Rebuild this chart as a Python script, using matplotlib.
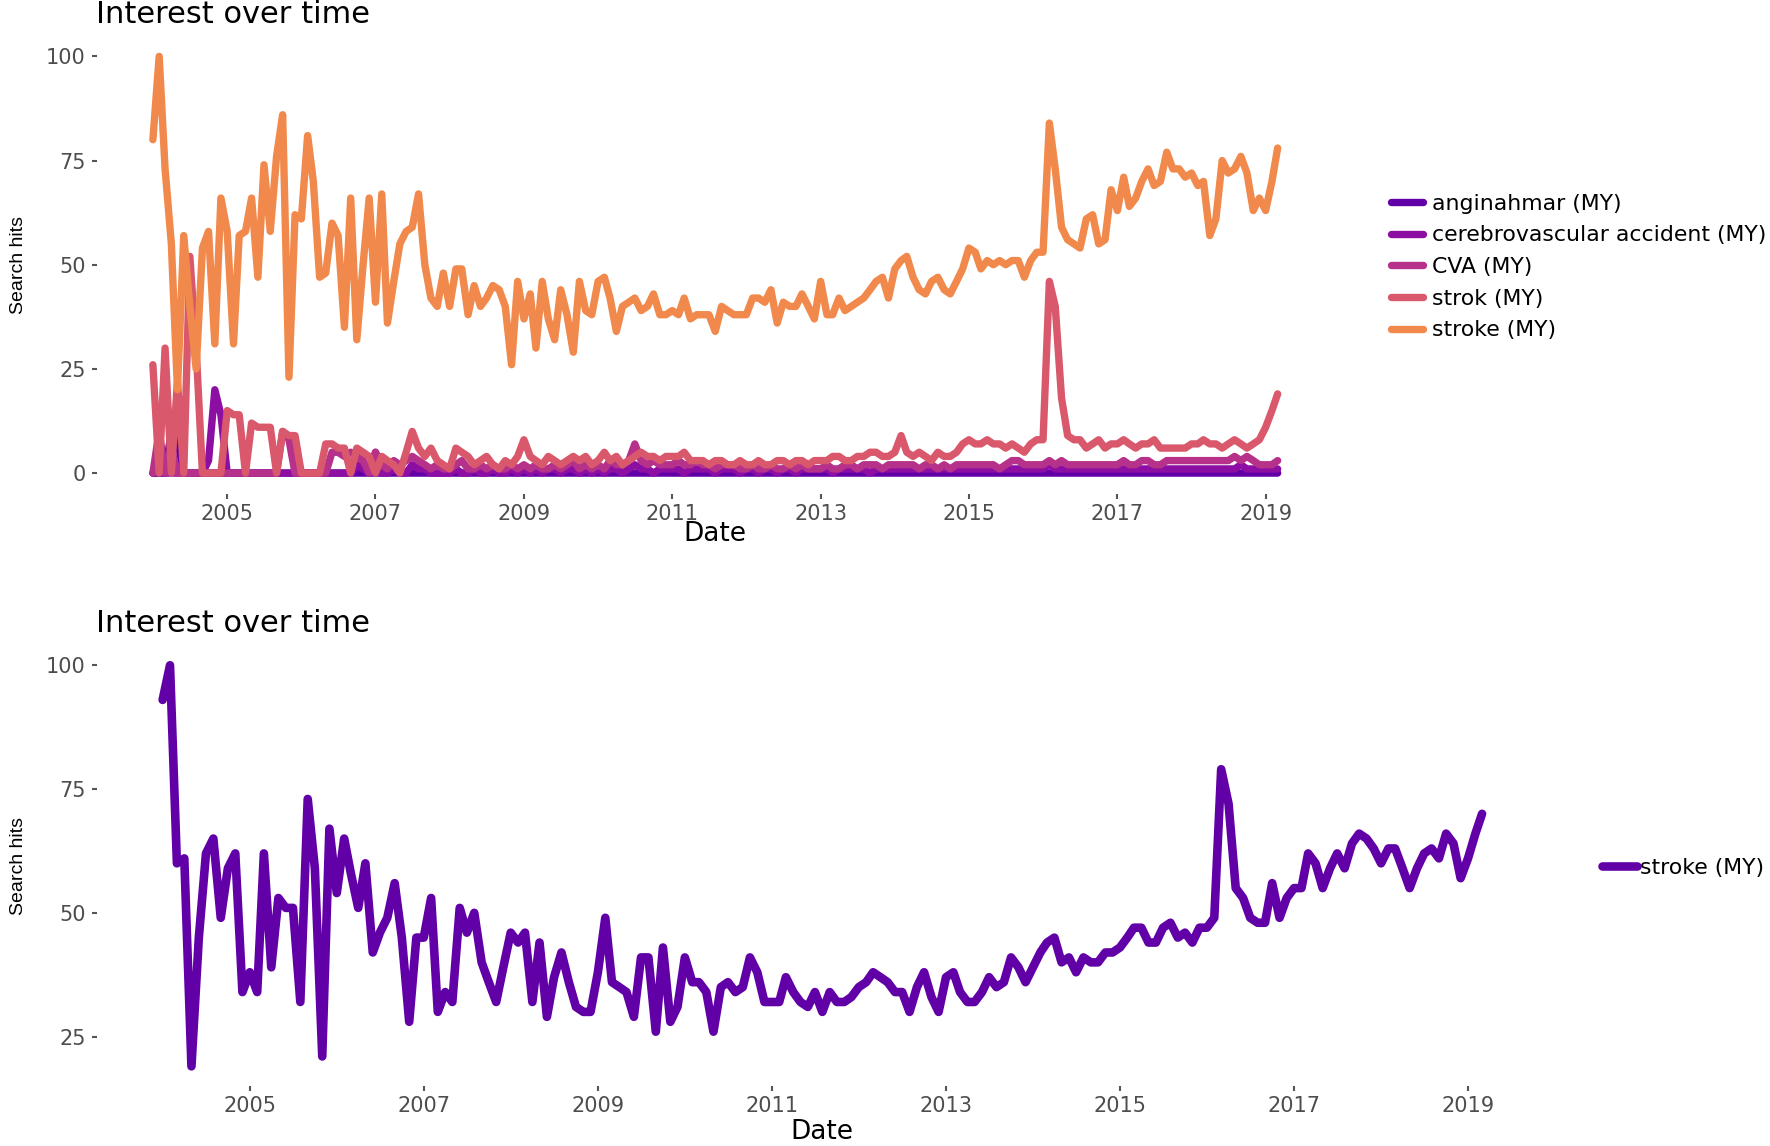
import matplotlib
matplotlib.use("Agg")
import matplotlib.pyplot as plt
import matplotlib.dates as mdates
import numpy as np
import pandas as pd

# monthly Google Trends hits, Jan 2004 - Mar 2019
dates = pd.date_range("2004-01-01", periods=183, freq="MS")
year_ticks = pd.to_datetime(["2005-01-01", "2007-01-01", "2009-01-01", "2011-01-01",
                             "2013-01-01", "2015-01-01", "2017-01-01", "2019-01-01"])

terms = ["anginahmar (MY)", "cerebrovascular accident (MY)", "CVA (MY)", "strok (MY)", "stroke (MY)"]

anginahmar = [0, 0, 0, 10, 8, 0, 0, 0, 0, 0, 0, 0] + [0] * 171

cerebrovascular = [
    0, 0, 0, 0, 0, 0, 0, 0, 0, 3, 20, 14,
    0, 0, 0, 0, 0, 0, 0, 0, 0, 0, 0, 0,
    0, 0, 0, 0, 0, 0, 0, 0, 0, 2, 1, 0,
    5, 0, 0, 1, 0, 0, 2, 1, 1, 0, 0, 0,
    0, 1, 0, 0, 1, 0, 0, 1, 0, 0, 1, 0,
    1, 0, 1, 0, 1, 1, 0, 1, 1, 0, 1, 0,
    1, 0, 1, 1, 0, 1, 2, 1, 1, 0, 1, 1,
    1, 1, 0, 1, 1, 1, 1, 0, 1, 1, 1, 0,
    1, 1, 0, 1, 1, 0, 1, 1, 0, 1, 1, 1,
    1, 1, 0, 1, 1, 1, 1, 1, 0, 1, 1, 1,
    1, 1, 1, 1, 1, 1, 1, 1, 1, 1, 1, 1,
    1, 1, 1, 1, 1, 1, 1, 1, 1, 1, 1, 1,
    1, 2, 1, 1, 1, 1, 1, 1, 1, 1, 1, 1,
    1, 1, 1, 1, 1, 1, 1, 1, 1, 1, 1, 1,
    1, 1, 1, 1, 1, 1, 1, 1, 2, 1, 1, 1,
    1, 1, 1,
]

cva = [
    0, 10, 0, 6, 0, 0, 0, 0, 0, 0, 0, 0,
    0, 0, 0, 0, 0, 0, 0, 0, 0, 10, 8, 0,
    0, 0, 0, 0, 0, 5, 5, 4, 5, 4, 3, 0,
    5, 2, 1, 3, 2, 3, 4, 3, 2, 1, 2, 1,
    1, 2, 3, 1, 1, 2, 1, 2, 1, 1, 2, 1,
    2, 1, 2, 1, 1, 2, 1, 2, 3, 1, 2, 1,
    2, 1, 3, 2, 2, 3, 7, 3, 2, 3, 2, 2,
    2, 3, 2, 2, 3, 2, 2, 1, 2, 2, 2, 1,
    1, 2, 1, 1, 2, 1, 1, 2, 1, 2, 1, 1,
    1, 2, 1, 1, 2, 2, 1, 2, 2, 2, 1, 2,
    2, 2, 2, 2, 1, 2, 2, 1, 2, 1, 2, 2,
    2, 2, 2, 2, 2, 1, 2, 3, 3, 2, 2, 2,
    2, 3, 2, 3, 2, 2, 2, 2, 2, 2, 2, 2,
    2, 3, 2, 2, 3, 3, 2, 2, 3, 3, 3, 3,
    3, 3, 3, 3, 3, 3, 3, 4, 3, 4, 3, 2,
    2, 2, 3,
]

strok = [
    26, 0, 30, 0, 22, 0, 52, 30, 0, 0, 0, 0,
    15, 14, 14, 0, 12, 11, 11, 11, 0, 10, 9, 9,
    0, 0, 0, 0, 7, 7, 6, 6, 0, 6, 5, 4,
    0, 4, 3, 2, 0, 5, 10, 6, 4, 6, 3, 2,
    1, 6, 5, 4, 2, 3, 4, 2, 1, 3, 2, 4,
    8, 4, 3, 2, 4, 3, 2, 3, 4, 3, 4, 2,
    3, 5, 3, 4, 2, 3, 4, 5, 4, 4, 3, 4,
    4, 4, 5, 3, 3, 3, 2, 3, 3, 2, 2, 3,
    2, 2, 3, 2, 2, 3, 3, 2, 3, 3, 2, 3,
    3, 3, 4, 4, 3, 3, 4, 4, 5, 5, 4, 4,
    5, 9, 5, 4, 5, 4, 3, 5, 4, 4, 5, 7,
    8, 7, 7, 8, 7, 7, 6, 7, 6, 5, 7, 8,
    8, 46, 40, 18, 9, 8, 8, 6, 7, 8, 6, 7,
    7, 8, 7, 6, 7, 7, 8, 6, 6, 6, 6, 6,
    7, 7, 8, 7, 7, 6, 7, 8, 7, 6, 7, 8,
    11, 15, 19,
]

stroke = [
    80, 100, 73, 55, 20, 57, 40, 25, 54, 58, 31, 66,
    58, 31, 57, 58, 66, 47, 74, 58, 76, 86, 23, 62,
    61, 81, 70, 47, 48, 60, 57, 35, 66, 32, 50, 66,
    41, 67, 36, 46, 55, 58, 59, 67, 50, 42, 40, 48,
    40, 49, 49, 38, 45, 40, 42, 45, 44, 40, 26, 46,
    37, 43, 30, 46, 37, 32, 44, 38, 29, 46, 39, 38,
    46, 47, 42, 34, 40, 41, 42, 39, 40, 43, 38, 38,
    39, 38, 42, 37, 38, 38, 38, 34, 40, 39, 38, 38,
    38, 42, 42, 41, 44, 36, 41, 40, 40, 43, 40, 37,
    46, 38, 38, 42, 39, 40, 41, 42, 44, 46, 47, 42,
    49, 51, 52, 47, 44, 43, 46, 47, 44, 43, 46, 49,
    54, 53, 49, 51, 50, 51, 50, 51, 51, 47, 51, 53,
    53, 84, 73, 59, 56, 55, 54, 61, 62, 55, 56, 68,
    63, 71, 64, 66, 70, 73, 69, 70, 77, 73, 73, 71,
    72, 69, 70, 57, 61, 75, 72, 73, 76, 72, 63, 66,
    63, 70, 78,
]

# second query: stroke on its own
stroke_only = [
    93, 100, 60, 61, 19, 45, 62, 65, 49, 59, 62, 34,
    38, 34, 62, 39, 53, 51, 51, 32, 73, 59, 21, 67,
    54, 65, 58, 51, 60, 42, 46, 49, 56, 45, 28, 45,
    45, 53, 30, 34, 32, 51, 46, 50, 40, 36, 32, 39,
    46, 44, 46, 32, 44, 29, 37, 42, 36, 31, 30, 30,
    38, 49, 36, 35, 34, 29, 41, 41, 26, 43, 28, 31,
    41, 36, 36, 34, 26, 35, 36, 34, 35, 41, 38, 32,
    32, 32, 37, 34, 32, 31, 34, 30, 34, 32, 32, 33,
    35, 36, 38, 37, 36, 34, 34, 30, 35, 38, 33, 30,
    37, 38, 34, 32, 32, 34, 37, 35, 36, 41, 39, 36,
    39, 42, 44, 45, 40, 41, 38, 41, 40, 40, 42, 42,
    43, 45, 47, 47, 44, 44, 47, 48, 45, 46, 44, 47,
    47, 49, 79, 72, 55, 53, 49, 48, 48, 56, 49, 53,
    55, 55, 62, 60, 55, 59, 62, 59, 64, 66, 65, 63,
    60, 63, 63, 59, 55, 59, 62, 63, 61, 66, 64, 57,
    61, 66, 70,
]

series = [anginahmar, cerebrovascular, cva, strok, stroke]
colors = ["#6200a7", "#8c0ea3", "#b5318a", "#d9586b", "#f0894b"]

plt.rcParams["font.family"] = ["DejaVu Sans"]
tick_col = "#4d4d4d"

fig = plt.figure(figsize=(17.7, 11.46), dpi=100)
ax1 = fig.add_axes([0.0546, 0.569, 0.699, 0.400])
ax2 = fig.add_axes([0.0546, 0.052, 0.820, 0.385])


def style(ax):
    for s in ax.spines.values():
        s.set_visible(False)
    ax.tick_params(axis="both", colors="#555555", labelcolor=tick_col,
                   labelsize=15, length=3.6, width=1.5)
    ax.tick_params(axis="x", pad=3.3)
    ax.tick_params(axis="y", pad=4.3)
    ax.set_xticks(year_ticks)
    ax.xaxis.set_major_formatter(mdates.DateFormatter("%Y"))
    ax.set_xlabel("Date", fontsize=19, va="center")
    ax.set_ylabel("Search hits", fontsize=14, va="center",
                  family=["Liberation Sans", "DejaVu Sans"])
    ax.margins(x=0.05, y=0.05)


for vals, col, name in zip(series, colors, terms):
    ax1.plot(dates, vals, color=col, lw=5.3, label=name,
             solid_joinstyle="round", solid_capstyle="round")
style(ax1)
ax1.set_yticks([0, 25, 50, 75, 100])
ax1.xaxis.set_label_coords(0.5, -0.0875)
ax1.yaxis.set_label_coords(-0.0635, 0.5)
fig.text(0.0543, 0.980, "Interest over time", fontsize=22, ha="left", va="baseline")
fig.legend(*ax1.get_legend_handles_labels(), loc="center left",
           bbox_to_anchor=(0.786, 0.767), frameon=False, fontsize=15.8,
           handlelength=1.45, handletextpad=0.4, labelspacing=0.53,
           borderpad=0, borderaxespad=0)

ax2.plot(dates, stroke_only, color=colors[0], lw=6.2, label="stroke (MY)",
         solid_joinstyle="round", solid_capstyle="round")
style(ax2)
ax2.set_yticks([25, 50, 75, 100])
ax2.xaxis.set_label_coords(0.5, -0.103)
ax2.yaxis.set_label_coords(-0.054, 0.5)
fig.text(0.0543, 0.4485, "Interest over time", fontsize=22, ha="left", va="baseline")
fig.legend(*ax2.get_legend_handles_labels(), loc="center left",
           bbox_to_anchor=(0.905, 0.243), frameon=False, fontsize=15.8,
           handlelength=1.6, handletextpad=0.15, borderpad=0, borderaxespad=0)

fig.savefig("out.png", dpi=100, facecolor="white")
